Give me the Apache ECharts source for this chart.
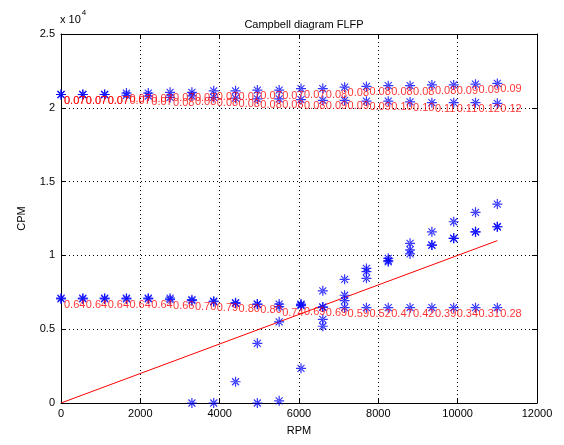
<!DOCTYPE html>
<html>
<head>
<meta charset="utf-8">
<script src="https://cdn.jsdelivr.net/npm/echarts@6/dist/echarts.min.js"></script>
<style>
  html, body { margin: 0; padding: 0; background: #fff; }
  #main { width: 564px; height: 445px; }
</style>
</head>
<body>
<div id="main"></div>
<script>
// rotor speed, RPM
var rpm = [0, 550, 1100, 1650, 2200, 2750, 3300, 3850, 4400, 4950, 5500,
           6050, 6600, 7150, 7700, 8250, 8800, 9350, 9900, 10450, 11000];

// whirl frequencies, CPM (null = no point)
var upperFwd = [20900, 20900, 20900, 21000, 21000, 21050, 21050, 21150, 21150, 21200, 21200,
                21300, 21300, 21400, 21450, 21500, 21500, 21550, 21550, 21600, 21650];
var upperBwd = [20900, 20900, 20900, 20850, 20800, 20700, 20800, 20700, 20650, 20600, 20600,
                20550, 20500, 20500, 20450, 20450, 20400, 20350, 20350, 20350, 20300];
var lowerFlat = [7050, 7050, 7050, 7050, 7050, 7000, 6930, 6860, 6750, 6690, 6530,
                 6600, 6500, 6460, 6460, 6460, 6460, 6460, 6460, 6460, 6460];
var lowerRise = [7100, 7100, 7100, 7100, 7100, 7100, 7000, 6900, 6800, 6700, 6700,
                 6700, 7600, 8380, 9120, 9800, 10820, 11600, 12280, 12920, 13480];
var riseA = [null, null, null, null, null, null, 0, 0, 1440, 4040, 5500,
             6650, 6500, 7300, 8450, 9570, 10100, 10700, 11160, 11600, 11940];
var riseB = [null, null, null, null, null, null, null, null, null, 0, 150,
             2350, 5200, 6930, 8900, 9650, 10370, 10700, 11160, 11600, 11940];
var riseC = [null, null, null, null, null, null, null, null, null, null, null,
             null, 5670, null, null, null, null, null, null, null, null];

// damping ratio labels
var upperFwdLbl = ['0.07', '0.07', '0.07', '0.07', '0.07', '0.07', '0.07', '0.07', '0.07', '0.07', '0.07',
                   '0.07', '0.08', '0.08', '0.08', '0.08', '0.08', '0.08', '0.09', '0.09', '0.09'];
var upperBwdLbl = ['0.07', '0.07', '0.07', '0.07', '0.07', '0.08', '0.08', '0.08', '0.08', '0.08', '0.08',
                   '0.08', '0.09', '0.09', '0.09', '0.10', '0.10', '0.11', '0.11', '0.12', '0.12'];
var lowerFlatLbl = ['0.64', '0.64', '0.64', '0.64', '0.64', '0.66', '0.70', '0.79', '0.80', '0.80', '0.74',
                    '0.69', '0.69', '0.59', '0.52', '0.47', '0.42', '0.39', '0.34', '0.31', '0.28'];

// 1X excitation line
var lineX = [0, 11000];
var lineY = [0, 11000];

var starPath = 'path://M-5,-0.6H5V0.6H-5Z M-0.6,-5H0.6V5H-0.6Z ' +
  'M-3.9,-3.1L3.1,3.9L3.9,3.1L-3.1,-3.9Z M3.1,-3.9L3.9,-3.1L-3.1,3.9L-3.9,3.1Z';

function pts(vals, lbls) {
  var out = [];
  for (var i = 0; i < rpm.length; i++) {
    if (vals[i] === null) continue;
    out.push(lbls ? [rpm[i], vals[i], lbls[i]] : [rpm[i], vals[i]]);
  }
  return out;
}

function starSeries(vals, lbls) {
  return {
    type: 'scatter',
    data: pts(vals, lbls),
    symbol: starPath,
    symbolSize: 10,
    itemStyle: { color: '#0000ff' },
    silent: true,
    z: 3,
    label: {
      show: !!lbls,
      position: 'right',
      distance: -2,
      offset: [0, 6],
      color: '#ff0000',
      fontFamily: 'Liberation Sans',
      fontSize: 11,
      formatter: function (p) { return p.value[2]; }
    }
  };
}

var font = 'Liberation Sans';
var myChart = echarts.init(document.getElementById('main'));

var axisCommon = {
  axisLine: { show: true, onZero: false, lineStyle: { color: '#000', width: 1 } },
  axisTick: { show: true, inside: true, length: 5, lineStyle: { color: '#000' } },
  minorTick: { show: false }
};

var option = {
  animation: false,
  backgroundColor: '#fff',
  title: {
    text: 'Campbell diagram FLFP',
    left: 299, top: 14, textAlign: 'center',
    textStyle: { fontFamily: font, fontSize: 11, fontWeight: 'normal', color: '#000' }
  },
  grid: { left: 61, right: 27, top: 34, bottom: 42 },
  xAxis: [
    Object.assign({
      type: 'value', min: 0, max: 12000, interval: 2000,
      name: 'RPM', nameLocation: 'middle', nameGap: 22,
      nameTextStyle: { fontFamily: font, fontSize: 11, color: '#000' },
      axisLabel: {
        fontFamily: font, fontSize: 11, color: '#000', margin: 5,
        formatter: function (v) { return String(v); }
      },
      splitLine: { show: true, lineStyle: { color: '#000', type: [1, 3], width: 1 } }
    }, axisCommon),
    Object.assign({
      type: 'value', min: 0, max: 12000, interval: 2000, position: 'top',
      axisLabel: { show: false }, splitLine: { show: false }
    }, axisCommon)
  ],
  yAxis: [
    Object.assign({
      type: 'value', min: 0, max: 25000, interval: 5000,
      name: 'CPM', nameLocation: 'middle', nameGap: 34, nameRotate: 90,
      nameTextStyle: { fontFamily: font, fontSize: 11, color: '#000' },
      axisLabel: {
        fontFamily: font, fontSize: 11, color: '#000', margin: 6,
        formatter: function (v) { return String(v / 10000); }
      },
      splitLine: { show: true, lineStyle: { color: '#000', type: [1, 3], width: 1 } }
    }, axisCommon),
    Object.assign({
      type: 'value', min: 0, max: 25000, interval: 5000, position: 'right',
      axisLabel: { show: false }, splitLine: { show: false }
    }, axisCommon)
  ],
  graphic: [{
    type: 'text', left: 60, top: 9,
    style: {
      text: '{b|x 10}{s|4}',
      rich: {
        b: { fontFamily: font, fontSize: 11, fill: '#000', padding: [8, 0, 0, 0] },
        s: { fontFamily: font, fontSize: 8, fill: '#000', padding: [0, 0, 6, 1] }
      }
    }
  }],
  series: [
    {
      type: 'line',
      data: lineX.map(function (x, i) { return [x, lineY[i]]; }),
      symbol: 'none',
      lineStyle: { color: '#ff0000', width: 1 },
      silent: true,
      z: 2
    },
    starSeries(upperFwd, upperFwdLbl),
    starSeries(upperBwd, upperBwdLbl),
    starSeries(lowerFlat, lowerFlatLbl),
    starSeries(lowerRise),
    starSeries(riseA),
    starSeries(riseB),
    starSeries(riseC)
  ]
};

myChart.setOption(option);
</script>
</body>
</html>
